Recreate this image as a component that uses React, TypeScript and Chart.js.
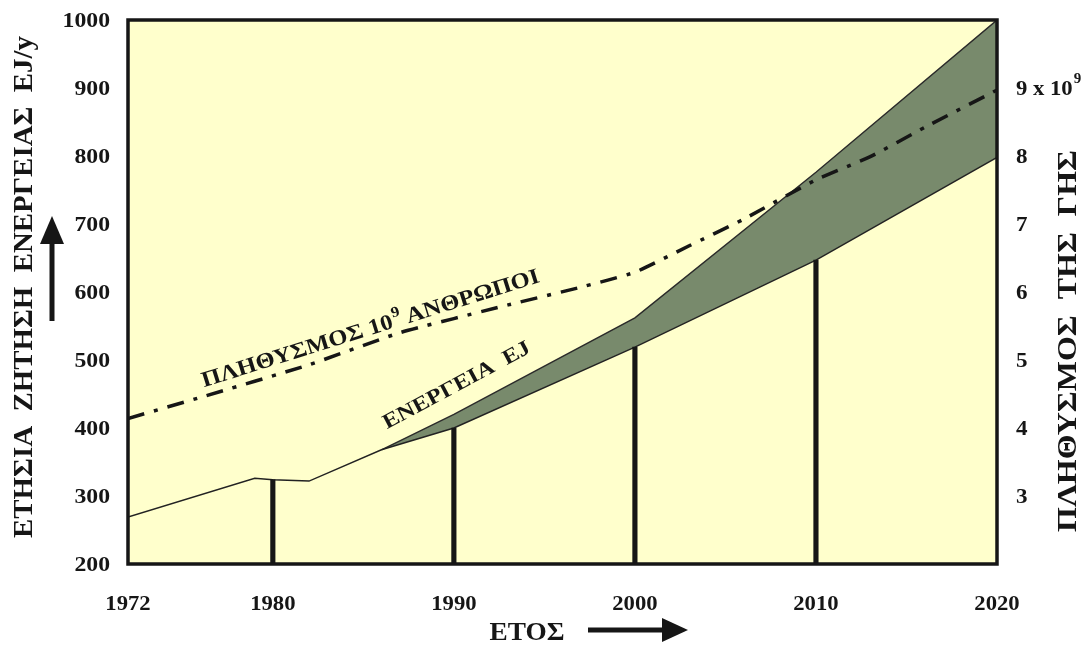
import React, { useEffect, useRef } from 'react';
import { Chart, registerables } from 'chart.js';

Chart.register(...registerables);

// ---- data ----
const yearTicks = [1972, 1980, 1990, 2000, 2010, 2020];
const energyTicks = [200, 300, 400, 500, 600, 700, 800, 900, 1000];
const popTicks = [3, 4, 5, 6, 7, 8, 9];

const energyLowYears = [1972, 1979, 1980, 1982, 1986, 1990, 2000, 2010, 2020];
const energyLowValues = [269, 326, 324, 322, 368, 400, 519, 647, 798];

const energyHighYears = [1986, 1990, 2000, 2010, 2020];
const energyHighValues = [368, 420, 562, 776, 1000];

const barYears = [1980, 1990, 2000, 2010];
const barValues = [324, 400, 519, 647];

const popYears = [1972, 1976, 1982, 1987, 1993, 1997, 2000, 2003, 2006, 2010, 2013, 2016, 2020];
const popValues = [4.14, 4.45, 4.93, 5.4, 5.81, 6.07, 6.29, 6.68, 7.07, 7.65, 7.99, 8.42, 8.97];

const leftTitle = 'ΕΤΗΣΙΑ  ΖΗΤΗΣΗ  ΕΝΕΡΓΕΙΑΣ  ΕJ/y';
const rightTitle = 'ΠΛΗΘΥΣΜΟΣ  ΤΗΣ  ΓΗΣ';
const bottomTitle = 'ΕΤΟΣ';
const popLabelA = 'ΠΛΗΘΥΣΜΟΣ 10';
const popLabelSup = '9';
const popLabelB = ' ΑΝΘΡΩΠΟΙ';
const energyLabel = 'ΕΝΕΡΓΕΙΑ  ΕJ';

const FONT = '"Liberation Serif", "Times New Roman", Times, serif';
const PLOT_BG = '#FFFFCC';
const GREEN = '#788a6c';
const INK = '#161616';

function font(size: number) {
  return `bold ${size}px ${FONT}`;
}

function drawText(
  ctx: CanvasRenderingContext2D,
  s: string,
  x: number,
  y: number,
  size: number,
  opts: { angle?: number; sx?: number; align?: CanvasTextAlign; target?: number } = {}
) {
  ctx.save();
  ctx.font = font(size);
  let sx = opts.sx ?? 1;
  if (opts.target) {
    const w = ctx.measureText(s).width;
    sx = opts.target / w;
  }
  ctx.translate(x, y);
  ctx.rotate(opts.angle ?? 0);
  ctx.scale(sx, 1);
  ctx.textAlign = opts.align ?? 'left';
  ctx.textBaseline = 'alphabetic';
  ctx.fillStyle = INK;
  ctx.fillText(s, 0, size * 0.33);
  ctx.restore();
}

const decorPlugin = {
  id: 'decor',
  beforeDraw(chart: any) {
    const { ctx, chartArea: a } = chart;
    ctx.save();
    ctx.fillStyle = '#ffffff';
    ctx.fillRect(0, 0, chart.width, chart.height);
    ctx.fillStyle = PLOT_BG;
    ctx.fillRect(a.left, a.top, a.right - a.left, a.bottom - a.top);
    ctx.restore();
  },
  afterDraw(chart: any) {
    const { ctx, chartArea: a, scales } = chart;
    const xs = scales.x;
    const ys = scales.y;
    const y1 = scales.y1;

    // plot frame
    ctx.save();
    ctx.strokeStyle = INK;
    ctx.lineWidth = 3.5;
    ctx.strokeRect(a.left, a.top, a.right - a.left, a.bottom - a.top);
    ctx.restore();

    // left ticks
    energyTicks.forEach((v) => {
      drawText(ctx, String(v), 110, ys.getPixelForValue(v), 21, { align: 'right', sx: 1.13 });
    });
    // right ticks
    popTicks.forEach((v) => {
      const y = y1.getPixelForValue(v);
      if (v === 9) {
        ctx.save();
        ctx.font = font(21);
        const w = ctx.measureText('9 x 10').width * 1.08;
        ctx.restore();
        drawText(ctx, '9 x 10', 1016, y, 21, { sx: 1.08 });
        drawText(ctx, '9', 1016 + w + 1, y - 10, 15, { sx: 1.0 });
      } else {
        drawText(ctx, String(v), 1016, y, 21, { sx: 1.1 });
      }
    });
    // x ticks
    yearTicks.forEach((v) => {
      drawText(ctx, String(v), xs.getPixelForValue(v), 603, 21, { align: 'center', sx: 1.08 });
    });

    // axis titles
    drawText(ctx, leftTitle, 23, 287, 28, { angle: -Math.PI / 2, align: 'center', target: 502 });
    drawText(ctx, rightTitle, 1067, 341, 28, { angle: -Math.PI / 2, align: 'center', target: 382 });
    drawText(ctx, bottomTitle, 527, 632, 25, { align: 'center', target: 75 });

    // arrows
    ctx.save();
    ctx.fillStyle = INK;
    // up arrow (left)
    ctx.fillRect(49.5, 240, 5, 81);
    ctx.beginPath();
    ctx.moveTo(52, 216);
    ctx.lineTo(40, 244);
    ctx.lineTo(64, 244);
    ctx.closePath();
    ctx.fill();
    // right arrow (bottom)
    ctx.fillRect(588, 627.5, 78, 5);
    ctx.beginPath();
    ctx.moveTo(688, 630);
    ctx.lineTo(662, 618);
    ctx.lineTo(662, 642);
    ctx.closePath();
    ctx.fill();
    ctx.restore();

    // population annotation along the dash-dot line
    {
      const p0 = { x: xs.getPixelForValue(1976.2), y: y1.getPixelForValue(4.6) };
      const p1 = { x: xs.getPixelForValue(1994.8), y: y1.getPixelForValue(6.15) };
      const ang = Math.atan2(p1.y - p0.y, p1.x - p0.x);
      const len = Math.hypot(p1.x - p0.x, p1.y - p0.y);
      ctx.save();
      ctx.font = font(22);
      const wA = ctx.measureText(popLabelA).width;
      const wB = ctx.measureText(popLabelB).width;
      ctx.font = font(15);
      const wS = ctx.measureText(popLabelSup).width;
      const sx = len / (wA + wS + wB);
      ctx.translate(p0.x, p0.y);
      ctx.rotate(ang);
      ctx.scale(sx, 1);
      ctx.fillStyle = INK;
      ctx.textBaseline = 'alphabetic';
      ctx.textAlign = 'left';
      ctx.font = font(22);
      ctx.fillText(popLabelA, 0, 0);
      ctx.font = font(15);
      ctx.fillText(popLabelSup, wA + 1, -10);
      ctx.font = font(22);
      ctx.fillText(popLabelB, wA + wS, 0);
      ctx.restore();
    }
    // energy annotation
    {
      const p0 = { x: xs.getPixelForValue(1986.3), y: ys.getPixelForValue(398) };
      const p1 = { x: xs.getPixelForValue(1994.3), y: ys.getPixelForValue(512) };
      const ang = Math.atan2(p1.y - p0.y, p1.x - p0.x);
      const len = Math.hypot(p1.x - p0.x, p1.y - p0.y);
      ctx.save();
      ctx.font = font(21);
      const w = ctx.measureText(energyLabel).width;
      ctx.translate(p0.x, p0.y);
      ctx.rotate(ang);
      ctx.scale(len / w, 1);
      ctx.fillStyle = INK;
      ctx.textBaseline = 'alphabetic';
      ctx.fillText(energyLabel, 0, 0);
      ctx.restore();
    }
  },
};

export default function App() {
  const ref = useRef<HTMLCanvasElement | null>(null);

  useEffect(() => {
    if (!ref.current) return;
    const chart = new Chart(ref.current, {
      type: 'line',
      data: {
        datasets: [
          {
            type: 'line',
            label: 'Πληθυσμός',
            yAxisID: 'y1',
            data: popYears.map((x, i) => ({ x, y: popValues[i] })),
            borderColor: INK,
            borderWidth: 3.5,
            borderDash: [17, 10, 4, 10],
            borderCapStyle: 'butt',
            pointRadius: 0,
            fill: false,
            tension: 0.15,
          } as any,
          {
            type: 'bar',
            label: 'Στήλες',
            yAxisID: 'y',
            data: barYears.map((x, i) => ({ x, y: [200, barValues[i]] })),
            backgroundColor: INK,
            barThickness: 4.5,
            borderWidth: 0,
          } as any,
          {
            type: 'line',
            label: 'Ενέργεια (κάτω)',
            yAxisID: 'y',
            data: energyLowYears.map((x, i) => ({ x, y: energyLowValues[i] })),
            borderColor: '#222',
            borderWidth: 1.4,
            pointRadius: 0,
            fill: false,
            tension: 0,
          } as any,
          {
            type: 'line',
            label: 'Ενέργεια (άνω)',
            yAxisID: 'y',
            data: energyHighYears.map((x, i) => ({ x, y: energyHighValues[i] })),
            borderColor: '#2a2a2a',
            borderWidth: 1.4,
            pointRadius: 0,
            backgroundColor: GREEN,
            fill: '-1',
            tension: 0,
          } as any,
        ],
      },
      options: {
        animation: false,
        responsive: false,
        devicePixelRatio: 1,
        layout: { padding: { left: 128, top: 20, right: 94, bottom: 81 } },
        plugins: {
          legend: { display: false },
          tooltip: { enabled: false },
        },
        scales: {
          x: { type: 'linear', min: 1972, max: 2020, display: false, offset: false },
          y: { type: 'linear', min: 200, max: 1000, display: false },
          y1: { type: 'linear', min: 2, max: 10, display: false, position: 'right' },
        },
      },
      plugins: [decorPlugin],
    } as any);
    return () => chart.destroy();
  }, []);

  return (
    <div style={{ position: 'absolute', left: 0, top: 0, width: 1091, height: 645, background: '#fff' }}>
      <canvas ref={ref} width={1091} height={645} style={{ display: 'block' }} />
    </div>
  );
}
